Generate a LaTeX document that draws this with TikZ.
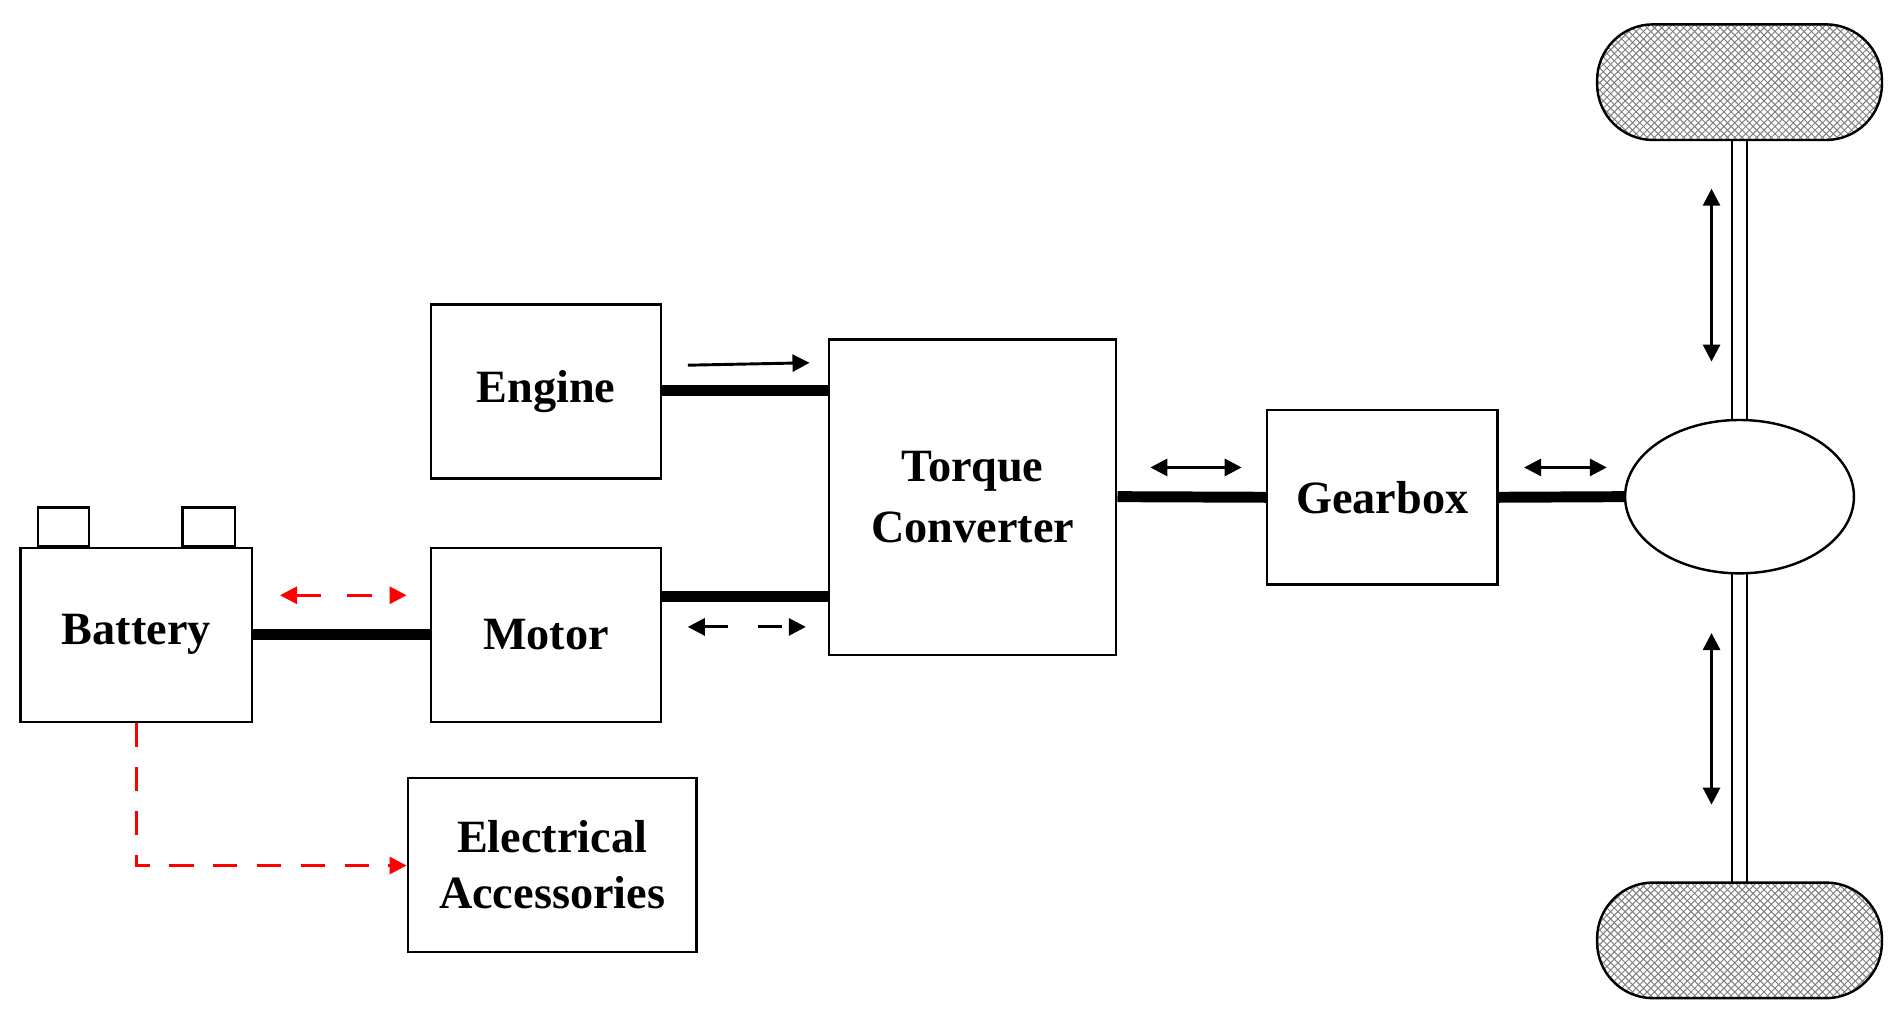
\documentclass[tikz,border=0pt]{standalone}
\usepackage{fontspec}
\setmainfont{Liberation Serif}
\usetikzlibrary{patterns,arrows.meta,shapes.geometric}
\begin{document}
\begin{tikzpicture}[x=0.5pt,y=-0.5pt,
  box/.style={draw,line width=1pt,inner sep=0pt,font=\bfseries\fontsize{19}{23}\selectfont,align=center},
  shaft/.style={line width=4.5pt},
  arr/.style={line width=1.2pt,-{Triangle[length=7pt,width=7pt]}},
  darr/.style={line width=1.2pt,{Triangle[length=7pt,width=7pt]}-{Triangle[length=7pt,width=7pt]}}]
\useasboundingbox (0,0) rectangle (1560,836);
\node[box,minimum width=94.5pt,minimum height=71.5pt] (eng) at (448.5,321.5) {Engine};
\node[box,minimum width=94.5pt,minimum height=71.5pt] (mot) at (448.5,521.5) {Motor};
\node[box,minimum width=95pt,minimum height=71.5pt] (bat) at (112,521.5) {Battery};
\node[draw,line width=1pt,minimum width=21pt,minimum height=16pt,inner sep=0pt,anchor=south] (t1) at (52,450) {};
\node[draw,line width=1pt,minimum width=21.5pt,minimum height=16pt,inner sep=0pt,anchor=south] (t2) at (171.5,450) {};
\node[box,minimum width=118pt,minimum height=129.5pt] (tc) at (799,408.5) {Torque\\[2pt]Converter};
\node[box,minimum width=94.5pt,minimum height=71.5pt] (gb) at (1135.5,408.5) {Gearbox};
\node[box,minimum width=118.5pt,minimum height=71.5pt] (acc) at (453.5,710.5) {Electrical\\Accessories};
\node[draw,line width=1pt,ellipse,minimum width=94pt,minimum height=63pt,inner sep=0pt] (diff) at (1429,408) {};
\node[draw,line width=1pt,rounded corners=23pt,minimum width=117pt,minimum height=47.5pt,inner sep=0pt,pattern=crosshatch,pattern color=gray] (w1) at (1429,67.5) {};
\node[draw,line width=1pt,rounded corners=23pt,minimum width=117pt,minimum height=47.5pt,inner sep=0pt,pattern=crosshatch,pattern color=gray] (w2) at (1429,772.5) {};
% shafts
\draw[shaft] (eng.east |- 0,321) -- (tc.west |- 0,321);
\draw[shaft] (mot.east |- 0,490) -- (tc.west |- 0,490);
\draw[shaft] (bat.east) -- (mot.west);
\draw[shaft] (tc.east |- 0,408) -- (gb.west);
\draw[shaft] (gb.east) -- (diff.west);
\foreach \x in {1423,1435}{
  \draw[line width=1pt] (\x,115) -- (\x,345);
  \draw[line width=1pt] (\x,471) -- (\x,725);}
% arrows
\coordinate (a1) at (565,300); \coordinate (a2) at (665,298);
\draw[arr] (a1) -- (a2);
\coordinate (b1) at (565,515); \coordinate (b2) at (662,515);
\draw[darr,dash pattern=on 10pt off 12pt] (b1) -- (b2);
\coordinate (c1) at (945,384); \coordinate (c2) at (1020,384);
\draw[darr] (c1) -- (c2);
\coordinate (d1) at (1252,384); \coordinate (d2) at (1320,384);
\draw[darr] (d1) -- (d2);
\coordinate (e1) at (1406,155); \coordinate (e2) at (1406,297);
\draw[darr] (e1) -- (e2);
\coordinate (f1) at (1406,520); \coordinate (f2) at (1406,661);
\draw[darr] (f1) -- (f2);
\coordinate (g1) at (230,489); \coordinate (g2) at (334,489);
\draw[darr,color=red,dash pattern=on 10pt off 11pt] (g1) -- (g2);
\draw[arr,color=red,dash pattern=on 10pt off 8pt] (bat.south) -- (112,711) -- (acc.west |- 0,711);
\end{tikzpicture}
\end{document}
